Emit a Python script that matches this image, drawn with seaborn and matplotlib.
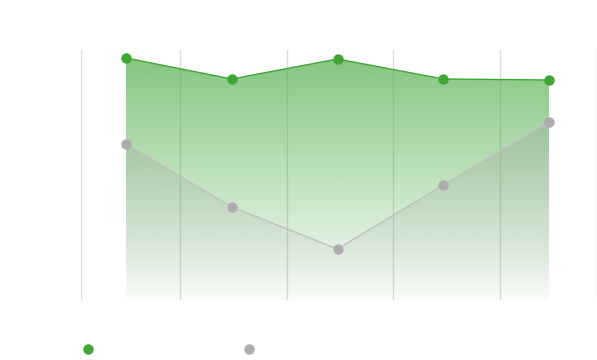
import numpy as np
import pandas as pd
import matplotlib
matplotlib.use("Agg")
import matplotlib.pyplot as plt
from matplotlib.lines import Line2D
import seaborn as sns

# data
points = [0, 1, 2, 3, 4]
series_a = [96.8, 88.4, 96.4, 88.4, 88.0]
series_b = [62.4, 37.2, 20.4, 46.0, 71.2]
grid_at = [-0.425, 0.51, 1.52, 2.52, 3.54, 4.44]

green = "#3fa535"
gray = "#adadad"

df = pd.DataFrame({"x": points, "a": series_a, "b": series_b})

sns.set_style("white")
fig = plt.figure(figsize=(5.97, 3.6), dpi=100)
ax = fig.add_axes([81 / 597, 1 - 300 / 360, 515 / 597, 250 / 360])
ax.set_xlim(-0.4255, 4.444)
ax.set_ylim(0, 100)


def gradient_fill(ax, x, y, color, a_top, a_bot):
    poly = ax.fill_between(x, y, 0, color="none", lw=0)
    top = max(y)
    n = 256
    rgba = np.zeros((n, 1, 4))
    rgba[:, 0, :3] = matplotlib.colors.to_rgb(color)
    rgba[:, 0, 3] = np.linspace(a_top, a_bot, n)
    img = ax.imshow(rgba, extent=[min(x), max(x), 0, top], origin="upper",
                    aspect="auto", zorder=1, interpolation="bilinear")
    path = poly.get_paths()[0]
    img.set_clip_path(path, transform=ax.transData)


gradient_fill(ax, df["x"], df["a"], "#4aab44", 0.68, 0.02)
gradient_fill(ax, df["x"], df["b"], "#9a9a9a", 0.32, 0.01)

sns.lineplot(data=df, x="x", y="b", color="#c0c0c0", lw=1, marker="o",
             markersize=7.5, markeredgewidth=0, markerfacecolor=gray,
             ax=ax, zorder=3)
sns.lineplot(data=df, x="x", y="a", color=green, lw=1, marker="o",
             markersize=7.5, markeredgewidth=0, markerfacecolor=green,
             ax=ax, zorder=4)

ax.set_xticks(grid_at)
ax.set_xticklabels([])
ax.set_yticks([])
ax.tick_params(length=0)
ax.grid(axis="x", color="#dcdcdc", lw=1)
ax.set_axisbelow(True)
for s in ax.spines.values():
    s.set_visible(False)
ax.set_xlabel("")
ax.set_ylabel("")

handles = [Line2D([], [], ls="", marker="o", color=green, markersize=7.5, markeredgewidth=0),
           Line2D([], [], ls="", marker="o", color=gray, markersize=7.5, markeredgewidth=0)]
fig.legend(handles, ["", ""], ncol=2, frameon=False, loc="center",
           bbox_to_anchor=(168.5 / 597, 1 - 350 / 360), handlelength=1,
           handletextpad=0, columnspacing=10.55, numpoints=1)

fig.savefig("out.png", dpi=100)
